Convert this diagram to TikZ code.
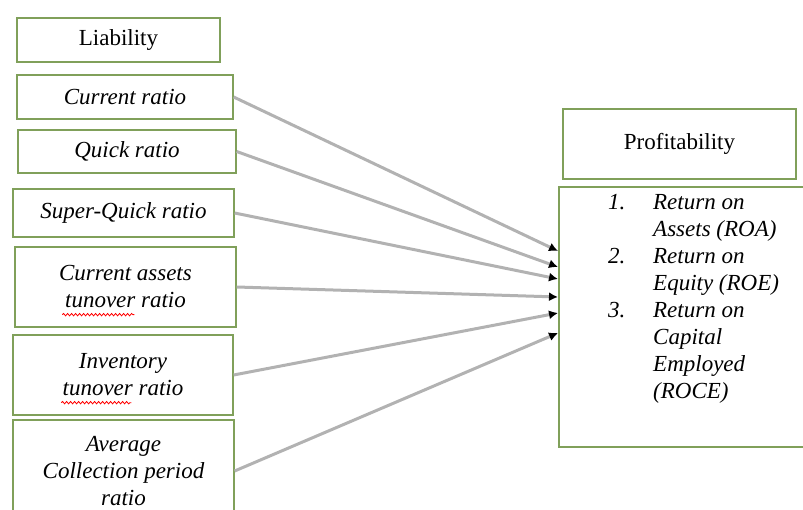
\documentclass[tikz,border=0pt]{standalone}
\usepackage{fontspec}
\setmainfont{Liberation Serif}
\usetikzlibrary{arrows.meta,decorations.pathmorphing}
\definecolor{boxgreen}{RGB}{128,160,90}
\tikzset{
  box/.style={draw=boxgreen, line width=1.3pt, fill=white, align=center, inner sep=2pt,
    font=\fontsize{23}{27}\selectfont},
  link/.style={draw=gray!60, line width=3pt, -{Latex[black,length=9pt,width=9pt]}},
  squiggle/.style={draw=red, line width=0.8pt, decorate,
    decoration={snake, amplitude=1.2pt, segment length=4pt}}
}
\begin{document}
\begin{tikzpicture}[x=1pt,y=-1pt]
	\useasboundingbox (0,0) rectangle (803,510);
	% left column
	\node (liab) at (118.5, 40)  [box, minimum width=203, minimum height=44]	{Liability};
	\node (cr)   at (125, 97)    [box, minimum width=216, minimum height=44]	{\itshape Current ratio};
	\node (qr)   at (127, 151.5) [box, minimum width=218, minimum height=43]	{\itshape Quick ratio};
	\node (sq)   at (123.5, 213) [box, minimum width=221, minimum height=48]	{\itshape Super-Quick ratio};
	\node (ca)   at (125.5, 287) [box, minimum width=221, minimum height=80]	{\itshape Current assets\\ \itshape tunover ratio};
	\node (inv)  at (123, 375)   [box, minimum width=220, minimum height=80]	{\itshape Inventory\\ \itshape tunover ratio};
	\node (avg)  at (123.5, 471) [box, minimum width=221, minimum height=102]	{\itshape Average\\ \itshape Collection period\\ \itshape ratio};
	% spell-check marks
	\draw[squiggle] ([shift={(48,-13)}]ca.south west) -- ++(72,0);
	\draw[squiggle] ([shift={(49,-13)}]inv.south west) -- ++(70,0);
	% right column
	\node (prof) at (679.5, 144) [box, minimum width=233, minimum height=70]	{Profitability};
	\node (ret)  at (682, 317)   [box, minimum width=246, minimum height=260]	{};
	\node (retlist) at (608, 190) [anchor=north west, inner sep=0pt, font=\fontsize{23}{27}\selectfont\itshape]
		{\begin{tabular}{@{}p{45pt}@{}l@{}}
		1. & Return on\\ & Assets (ROA)\\
		2. & Return on\\ & Equity (ROE)\\
		3. & Return on\\ & Capital\\ & Employed\\ & (ROCE)
		\end{tabular}};
	% arrow ends
	\foreach \y [count=\i] in {251,267,279,297,313,333}
		\coordinate (in\i) at (558,\y);
	\foreach \src [count=\i] in {cr,qr,sq,ca,inv,avg}
		\draw[link] (\src.east) -- (in\i);
\end{tikzpicture}
\end{document}
